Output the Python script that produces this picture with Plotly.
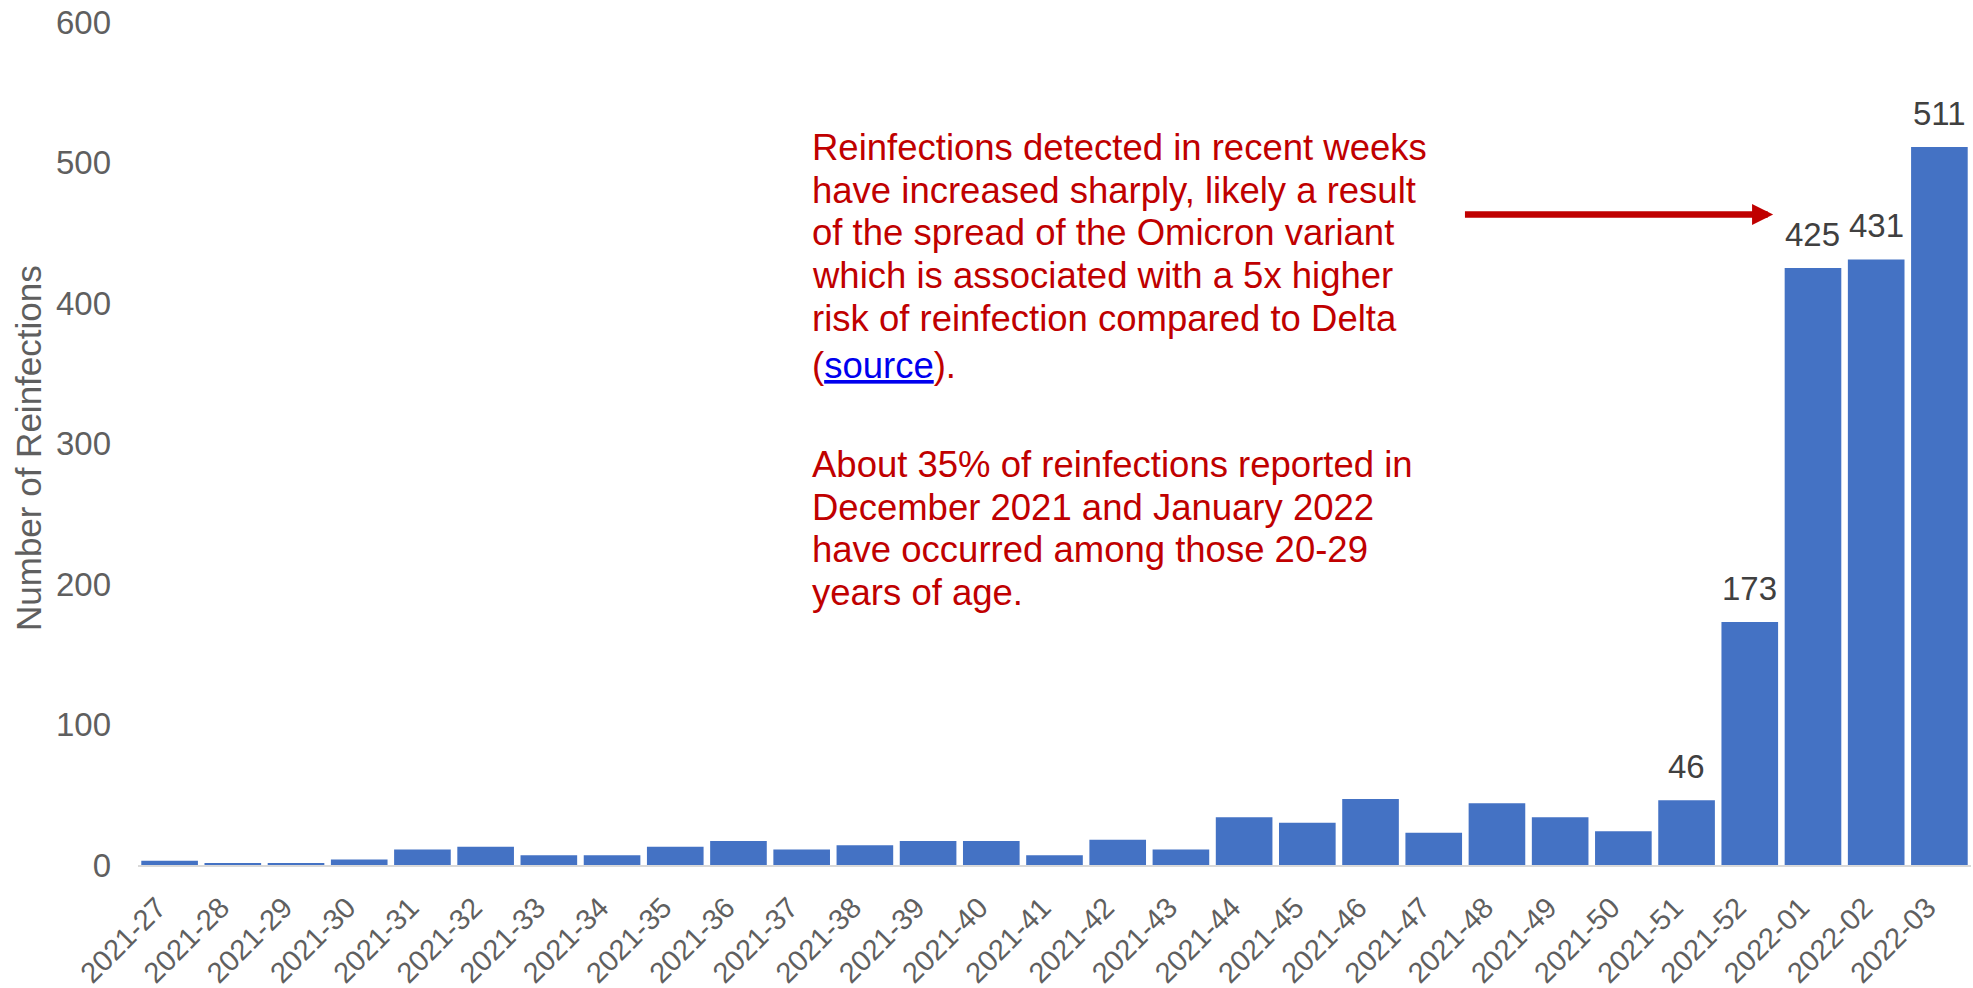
import plotly.graph_objects as go

# Weekly reinfection counts (ISO year-week)
weeks = [
    "2021-27", "2021-28", "2021-29", "2021-30", "2021-31", "2021-32", "2021-33",
    "2021-34", "2021-35", "2021-36", "2021-37", "2021-38", "2021-39", "2021-40",
    "2021-41", "2021-42", "2021-43", "2021-44", "2021-45", "2021-46", "2021-47",
    "2021-48", "2021-49", "2021-50", "2021-51", "2021-52", "2022-01", "2022-02",
    "2022-03",
]
reinfections = [
    3, 1, 1, 4, 11, 13, 7,
    7, 13, 17, 11, 14, 17, 17,
    7, 18, 11, 34, 30, 47, 23,
    44, 34, 24, 46, 173, 425, 431,
    511,
]
# weeks whose bars carry a value label
labelled_weeks = ["2021-51", "2021-52", "2022-01", "2022-02", "2022-03"]

y_ticks = [0, 100, 200, 300, 400, 500, 600]

note_para1 = [
    "Reinfections detected in recent weeks",
    "have increased sharply, likely a result",
    "of the spread of the Omicron variant",
    "which is associated with a 5x higher",
    "risk of reinfection compared to Delta",
    "(<span style=\"color:#0000EE;text-decoration:underline\">source</span>).",
]
note_para2 = [
    "About 35% of reinfections reported in",
    "December 2021 and January 2022",
    "have occurred among those 20-29",
    "years of age.",
]

FONT = "Liberation Sans, Arial, sans-serif"
BAR_BLUE = "#4472C4"
NOTE_RED = "#C00000"
AXIS_GREY = "#5f5f5f"

W, H = 1973, 988
M_L, M_R, M_T, M_B = 138, 2, 22, 123
plot_h = H - M_T - M_B

fig = go.Figure()
fig.add_trace(go.Bar(
    x=weeks,
    y=reinfections,
    marker=dict(color=BAR_BLUE, line=dict(width=0)),
    hoverinfo="x+y",
))

# value labels above selected bars
for wk in labelled_weeks:
    v = reinfections[weeks.index(wk)]
    fig.add_annotation(
        x=wk, y=v, xref="x", yref="y",
        text=str(v), showarrow=False,
        yanchor="bottom", yshift=13,
        font=dict(family=FONT, size=33, color="#404040"),
    )

# y-axis title
fig.add_annotation(
    x=(29 - M_L) / (W - M_L - M_R), y=(H - M_B - 448) / plot_h,
    xref="paper", yref="paper",
    text="Number of Reinfections", textangle=-90, showarrow=False,
    xanchor="center", yanchor="middle",
    font=dict(family=FONT, size=35, color=AXIS_GREY),
)

# callout text, one annotation per line
note_size = 36.5
pitch = 42.8
note_left = (810 - M_L) / (W - M_L - M_R)
para1_base = [160 + pitch * k for k in range(len(note_para1))]
para1_base[-1] += 4
para2_base = [477 + pitch * k for k in range(len(note_para2))]


def line_y(baseline_px):
    centre = baseline_px - 0.35 * note_size
    return (H - M_B - centre) / plot_h


for line, base in list(zip(note_para1, para1_base)) + list(zip(note_para2, para2_base)):
    fig.add_annotation(
        x=note_left, y=line_y(base), xref="paper", yref="paper",
        text=line, showarrow=False, xanchor="left", yanchor="middle",
        font=dict(family=FONT, size=note_size, color=NOTE_RED),
    )

# arrow pointing toward the January bars
fig.add_annotation(
    x=25.37, y=463, xref="x", yref="y",
    ax=20.47, ay=463, axref="x", ayref="y",
    text="", showarrow=True,
    arrowhead=2, arrowsize=0.65, arrowwidth=6.5, arrowcolor=NOTE_RED,
    standoff=0,
)

fig.update_layout(
    width=W, height=H,
    margin=dict(l=M_L, r=M_R, t=M_T, b=M_B, pad=0, autoexpand=False),
    paper_bgcolor="white", plot_bgcolor="white",
    bargap=0.104,
    showlegend=False,
    font=dict(family=FONT, color=AXIS_GREY),
)
fig.update_xaxes(
    type="category",
    automargin=False,
    tickangle=-45,
    tickfont=dict(family=FONT, size=29, color=AXIS_GREY),
    showline=True, linecolor="#D9D9D9", linewidth=2,
    showgrid=False, zeroline=False,
    ticks="", ticklabelstandoff=12, ticklabelshift=-12,
)
fig.update_yaxes(
    range=[0, 600],
    automargin=False,
    tickvals=y_ticks,
    tickfont=dict(family=FONT, size=33, color=AXIS_GREY),
    showline=False, showgrid=False, zeroline=False,
    ticks="", ticklabelstandoff=26,
)

fig.write_html("out.html")
